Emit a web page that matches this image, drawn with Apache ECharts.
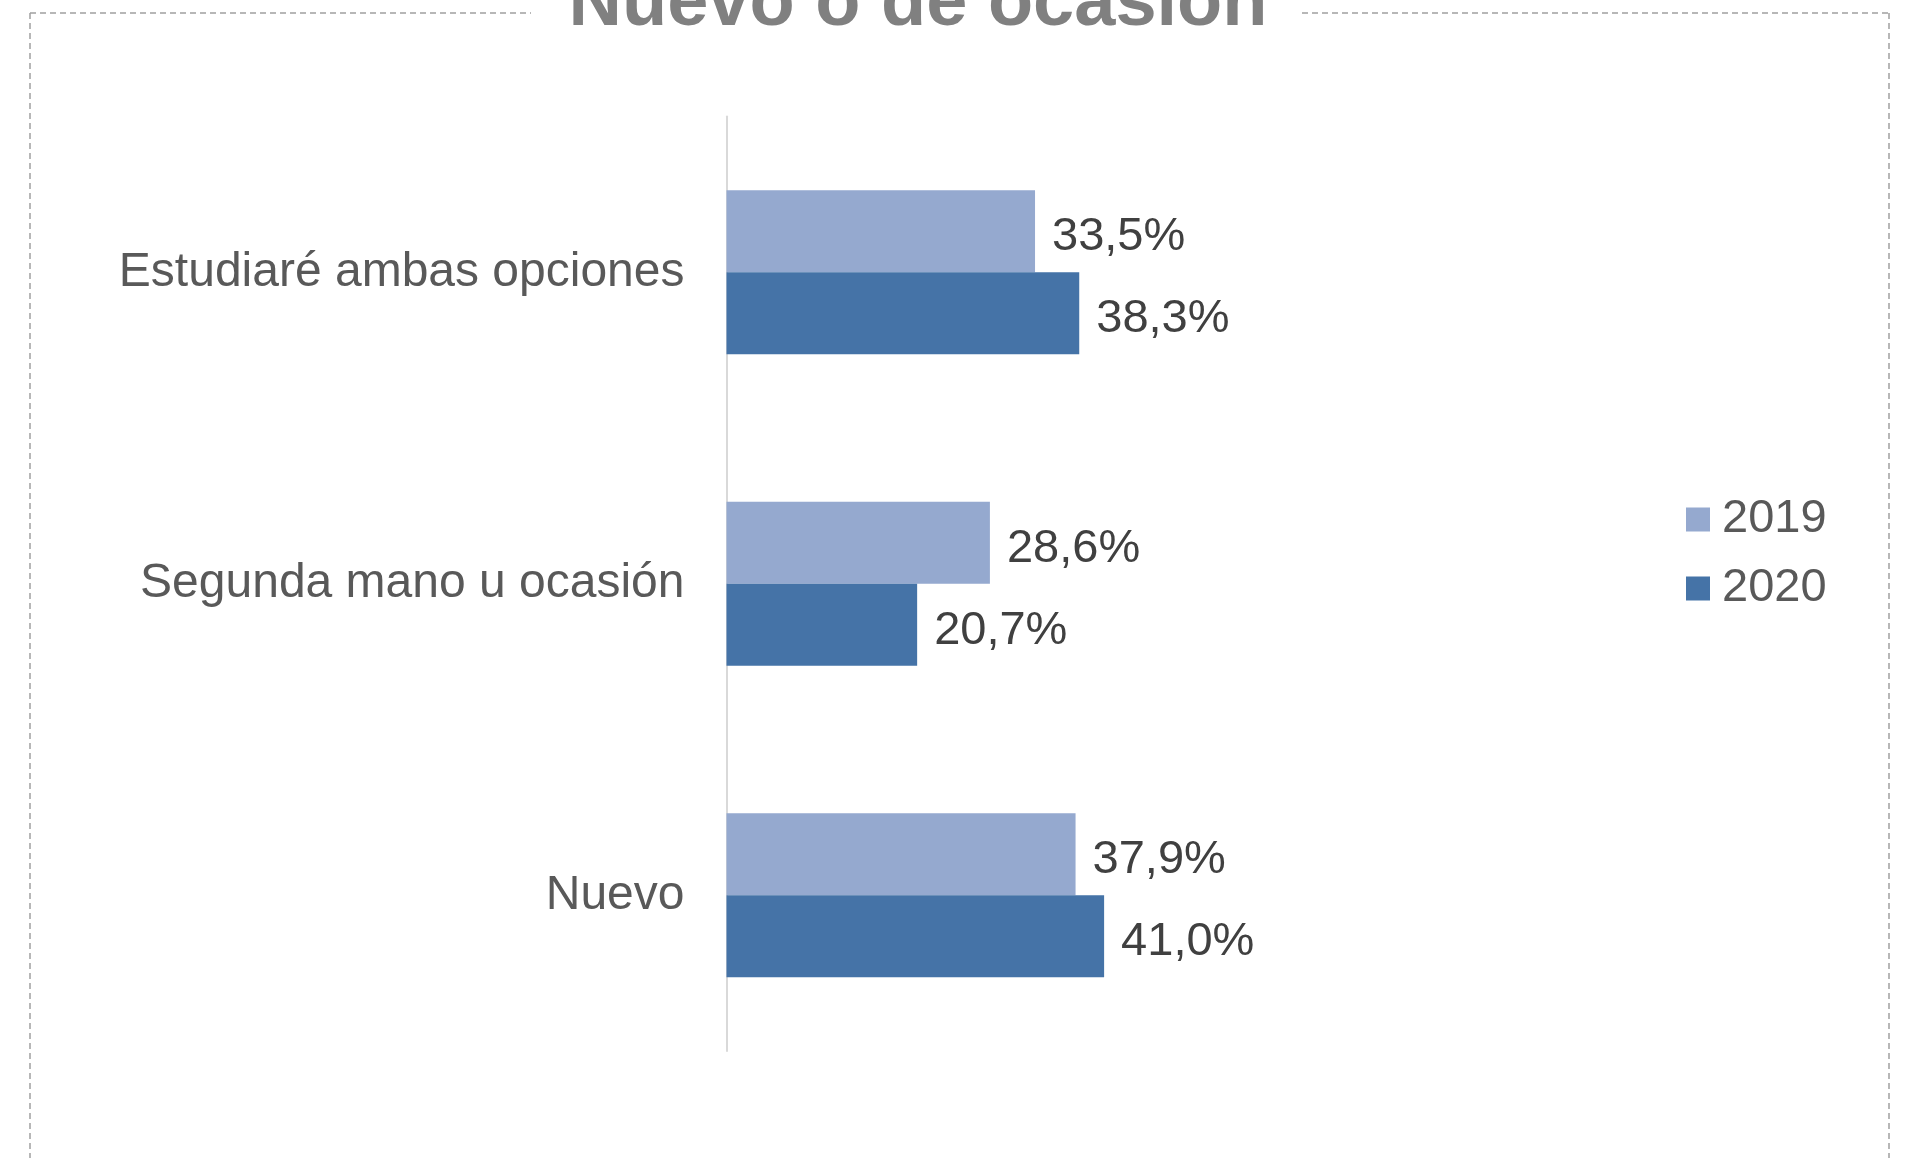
<!DOCTYPE html>
<html>
<head>
<meta charset="utf-8">
<title>Nuevo o de ocasión</title>
<script src="https://cdn.jsdelivr.net/npm/echarts@6/dist/echarts.min.js"></script>
<style>
  html, body { margin: 0; padding: 0; background: #fff; }
  #chart { width: 1905px; height: 1158px; }
</style>
</head>
<body>
<div id="chart"></div>
<script>
// datos -------------------------------------
var categorias = ['Estudiaré ambas opciones', 'Segunda mano u ocasión', 'Nuevo'];
var anios = ['2019', '2020'];
var valores2019 = [33.5, 28.6, 37.9];
var valores2020 = [38.3, 20.7, 41.0];
var titulo = 'Nuevo o de ocasión';

var fuente = '"Liberation Sans", Arial, sans-serif';

function chart1() {
    var myChart = echarts.init(document.getElementById('chart'));

    var etiqueta = {
        show: true,
        position: 'right',
        distance: 17,
        offset: [0, 6],
        fontFamily: fuente,
        fontSize: 47,
        color: '#404040',
        formatter: function (p) {
            return p.value.toFixed(1).replace('.', ',') + '%';
        }
    };

    var borde = { stroke: '#a0a0a0', lineWidth: 1.5, lineDash: [6, 4] };

    var option = {
        animation: false,
        backgroundColor: '#fff',
        graphic: [
            // marco punteado
            { type: 'line', shape: { x1: 30, y1: 13, x2: 531, y2: 13 }, style: borde, silent: true },
            { type: 'line', shape: { x1: 1302, y1: 13, x2: 1889, y2: 13 }, style: borde, silent: true },
            { type: 'line', shape: { x1: 30, y1: 13, x2: 30, y2: 1158 }, style: borde, silent: true },
            { type: 'line', shape: { x1: 1889, y1: 13, x2: 1889, y2: 1158 }, style: borde, silent: true },
            {
                type: 'text',
                x: 918,
                y: 5,
                style: {
                    text: titulo,
                    fontFamily: fuente,
                    fontSize: 74,
                    fontWeight: 'bold',
                    fill: '#808080',
                    align: 'center',
                    verticalAlign: 'middle'
                }
            }
        ],
        legend: {
            data: anios,
            orient: 'vertical',
            left: 1681,
            top: 491,
            icon: 'rect',
            itemWidth: 24,
            itemHeight: 24,
            itemGap: 22,
            textStyle: {
                fontFamily: fuente,
                fontSize: 47,
                color: '#595959',
                padding: [4, 0, 0, 7]
            }
        },
        grid: {
            left: 726.5,
            top: 116.6,
            width: 460.5,
            height: 934.4,
            containLabel: false,
            outerBoundsMode: 'none'
        },
        xAxis: {
            type: 'value',
            min: 0,
            max: 50,
            show: false
        },
        yAxis: {
            type: 'category',
            data: categorias,
            inverse: true,
            axisLine: { show: true, lineStyle: { color: '#d9d9d9', width: 2 } },
            axisTick: { show: false },
            axisLabel: {
                margin: 42,
                fontFamily: fuente,
                fontSize: 48,
                color: '#595959',
                padding: [6, 0, 0, 0]
            },
            splitLine: { show: false }
        },
        series: [
            {
                name: '2019',
                type: 'bar',
                data: valores2019,
                barWidth: 82,
                barGap: '0%',
                itemStyle: { color: '#95a9cf' },
                label: etiqueta
            },
            {
                name: '2020',
                type: 'bar',
                data: valores2020,
                barWidth: 82,
                barGap: '0%',
                itemStyle: { color: '#4573a7' },
                label: etiqueta
            }
        ]
    };
    myChart.setOption(option);

    window.addEventListener('resize', function () {
        myChart.resize();
    });
}
chart1();
</script>
</body>
</html>
